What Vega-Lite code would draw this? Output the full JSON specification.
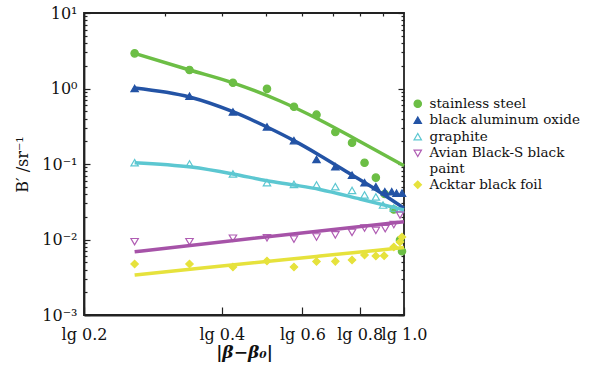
{
  "$schema": "https://vega.github.io/schema/vega-lite/v6.json",
  "width": 320,
  "height": 302,
  "autosize": {"type": "none"},
  "padding": {"left": 84, "top": 13, "right": 189, "bottom": 53},
  "background": "white",
  "config": {
    "view": {"stroke": "#222", "strokeWidth": 1.8},
    "font": "DejaVu Serif",
    "axis": {
      "grid": false,
      "domainColor": "#222",
      "domainWidth": 1.8,
      "tickColor": "#222",
      "tickWidth": 1.2,
      "labelColor": "#111",
      "titleColor": "#111",
      "labelFont": "DejaVu Serif",
      "titleFont": "DejaVu Serif",
      "labelOverlap": false,
      "labelBound": false,
      "labelFlush": false
    }
  },
  "datasets": {
    "pts": [
      {"s": "stainless steel", "x": 0.258, "y": 2.92},
      {"s": "stainless steel", "x": 0.34, "y": 1.76},
      {"s": "stainless steel", "x": 0.423, "y": 1.19},
      {"s": "stainless steel", "x": 0.502, "y": 0.99},
      {"s": "stainless steel", "x": 0.575, "y": 0.574},
      {"s": "stainless steel", "x": 0.644, "y": 0.45},
      {"s": "stainless steel", "x": 0.708, "y": 0.265},
      {"s": "stainless steel", "x": 0.77, "y": 0.191},
      {"s": "stainless steel", "x": 0.82, "y": 0.104},
      {"s": "stainless steel", "x": 0.868, "y": 0.066},
      {"s": "stainless steel", "x": 0.908, "y": 0.04},
      {"s": "stainless steel", "x": 0.95, "y": 0.025},
      {"s": "stainless steel", "x": 0.98, "y": 0.0098},
      {"s": "stainless steel", "x": 0.99, "y": 0.007},
      {"s": "black aluminum oxide", "x": 0.258, "y": 1.0},
      {"s": "black aluminum oxide", "x": 0.34, "y": 0.79},
      {"s": "black aluminum oxide", "x": 0.423, "y": 0.49},
      {"s": "black aluminum oxide", "x": 0.502, "y": 0.31},
      {"s": "black aluminum oxide", "x": 0.575, "y": 0.204},
      {"s": "black aluminum oxide", "x": 0.644, "y": 0.115},
      {"s": "black aluminum oxide", "x": 0.708, "y": 0.092},
      {"s": "black aluminum oxide", "x": 0.77, "y": 0.071},
      {"s": "black aluminum oxide", "x": 0.82, "y": 0.0565},
      {"s": "black aluminum oxide", "x": 0.868, "y": 0.05},
      {"s": "black aluminum oxide", "x": 0.908, "y": 0.043},
      {"s": "black aluminum oxide", "x": 0.94, "y": 0.043},
      {"s": "black aluminum oxide", "x": 0.963, "y": 0.041},
      {"s": "black aluminum oxide", "x": 0.99, "y": 0.041},
      {"s": "graphite", "x": 0.258, "y": 0.104},
      {"s": "graphite", "x": 0.34, "y": 0.1},
      {"s": "graphite", "x": 0.423, "y": 0.0738},
      {"s": "graphite", "x": 0.502, "y": 0.0565},
      {"s": "graphite", "x": 0.575, "y": 0.0538},
      {"s": "graphite", "x": 0.644, "y": 0.0527},
      {"s": "graphite", "x": 0.708, "y": 0.05},
      {"s": "graphite", "x": 0.77, "y": 0.0446},
      {"s": "graphite", "x": 0.82, "y": 0.0389},
      {"s": "graphite", "x": 0.868, "y": 0.0366},
      {"s": "graphite", "x": 0.9, "y": 0.0286},
      {"s": "graphite", "x": 0.95, "y": 0.0261},
      {"s": "graphite", "x": 0.98, "y": 0.0254},
      {"s": "Avian Black-S black paint", "x": 0.258, "y": 0.00935},
      {"s": "Avian Black-S black paint", "x": 0.34, "y": 0.00935},
      {"s": "Avian Black-S black paint", "x": 0.423, "y": 0.0104},
      {"s": "Avian Black-S black paint", "x": 0.502, "y": 0.01055},
      {"s": "Avian Black-S black paint", "x": 0.575, "y": 0.0101},
      {"s": "Avian Black-S black paint", "x": 0.644, "y": 0.0108},
      {"s": "Avian Black-S black paint", "x": 0.708, "y": 0.0115},
      {"s": "Avian Black-S black paint", "x": 0.77, "y": 0.0124},
      {"s": "Avian Black-S black paint", "x": 0.82, "y": 0.0142},
      {"s": "Avian Black-S black paint", "x": 0.868, "y": 0.0132},
      {"s": "Avian Black-S black paint", "x": 0.91, "y": 0.0139},
      {"s": "Avian Black-S black paint", "x": 0.95, "y": 0.0158},
      {"s": "Avian Black-S black paint", "x": 0.98, "y": 0.0211},
      {"s": "Acktar black foil", "x": 0.258, "y": 0.00473},
      {"s": "Acktar black foil", "x": 0.34, "y": 0.00473},
      {"s": "Acktar black foil", "x": 0.423, "y": 0.00432},
      {"s": "Acktar black foil", "x": 0.502, "y": 0.00519},
      {"s": "Acktar black foil", "x": 0.575, "y": 0.00432},
      {"s": "Acktar black foil", "x": 0.644, "y": 0.00512},
      {"s": "Acktar black foil", "x": 0.708, "y": 0.00514},
      {"s": "Acktar black foil", "x": 0.77, "y": 0.00535},
      {"s": "Acktar black foil", "x": 0.82, "y": 0.00623},
      {"s": "Acktar black foil", "x": 0.868, "y": 0.00604},
      {"s": "Acktar black foil", "x": 0.905, "y": 0.0061},
      {"s": "Acktar black foil", "x": 0.95, "y": 0.00796},
      {"s": "Acktar black foil", "x": 0.98, "y": 0.00927},
      {"s": "Acktar black foil", "x": 0.99, "y": 0.0108}
    ],
    "fits": [
      {"s": "stainless steel", "x": 0.258, "y": 2.92},
      {"s": "stainless steel", "x": 0.34, "y": 1.76},
      {"s": "stainless steel", "x": 0.423, "y": 1.19},
      {"s": "stainless steel", "x": 0.536, "y": 0.683},
      {"s": "stainless steel", "x": 0.655, "y": 0.383},
      {"s": "stainless steel", "x": 0.801, "y": 0.199},
      {"s": "stainless steel", "x": 1.0, "y": 0.095},
      {"s": "black aluminum oxide", "x": 0.258, "y": 1.015},
      {"s": "black aluminum oxide", "x": 0.34, "y": 0.772},
      {"s": "black aluminum oxide", "x": 0.423, "y": 0.493},
      {"s": "black aluminum oxide", "x": 0.502, "y": 0.309},
      {"s": "black aluminum oxide", "x": 0.575, "y": 0.204},
      {"s": "black aluminum oxide", "x": 0.655, "y": 0.13},
      {"s": "black aluminum oxide", "x": 0.773, "y": 0.0705},
      {"s": "black aluminum oxide", "x": 0.864, "y": 0.0467},
      {"s": "black aluminum oxide", "x": 1.0, "y": 0.026},
      {"s": "graphite", "x": 0.258, "y": 0.104},
      {"s": "graphite", "x": 0.343, "y": 0.091},
      {"s": "graphite", "x": 0.423, "y": 0.0738},
      {"s": "graphite", "x": 0.502, "y": 0.06},
      {"s": "graphite", "x": 0.575, "y": 0.0527},
      {"s": "graphite", "x": 0.655, "y": 0.046},
      {"s": "graphite", "x": 0.801, "y": 0.0344},
      {"s": "graphite", "x": 1.0, "y": 0.0246},
      {"s": "Avian Black-S black paint", "x": 0.258, "y": 0.00689},
      {"s": "Avian Black-S black paint", "x": 0.655, "y": 0.013},
      {"s": "Avian Black-S black paint", "x": 1.0, "y": 0.0172},
      {"s": "Acktar black foil", "x": 0.258, "y": 0.00339},
      {"s": "Acktar black foil", "x": 0.358, "y": 0.00416},
      {"s": "Acktar black foil", "x": 0.655, "y": 0.00604},
      {"s": "Acktar black foil", "x": 1.0, "y": 0.00783}
    ]
  },
  "layer": [
    {
      "data": {"name": "pts"},
      "mark": {"type": "point", "size": 55, "strokeWidth": 1.2, "opacity": 1},
      "encoding": {
        "x": {
          "field": "x", "type": "quantitative",
          "scale": {"type": "log", "domain": [0.2, 1.0], "nice": false},
          "axis": {
            "orient": "bottom",
            "values": [0.2, 0.4, 0.6, 0.8, 1.0],
            "labelExpr": "'lg ' + format(datum.value, '.1f')",
            "tickSize": -8,
            "labelPadding": 19,
            "labelFontSize": 16,
            "title": "|β−β₀|",
            "titleFontSize": 17,
            "titleFontStyle": "italic",
            "titleFontWeight": "bold",
            "titleX": 160,
            "titleY": 37,
            "titleAlign": "center",
            "titleBaseline": "middle"
          }
        },
        "y": {
          "field": "y", "type": "quantitative",
          "scale": {"type": "log", "domain": [0.001, 10], "nice": false},
          "axis": {
            "orient": "left",
            "values": [0.001,0.002,0.003,0.004,0.005,0.006,0.007,0.008,0.009,0.01,0.02,0.03,0.04,0.05,0.06,0.07,0.08,0.09,0.1,0.2,0.3,0.4,0.5,0.6,0.7,0.8,0.9,1,2,3,4,5,6,7,8,9,10],
            "labelExpr": "abs(log(datum.value)/LN10-round(log(datum.value)/LN10))<0.01 ? (datum.value>5 ? '10¹' : datum.value>0.5 ? '10⁰' : datum.value>0.05 ? '10⁻¹' : datum.value>0.005 ? '10⁻²' : '10⁻³') : ''",
            "tickSize": {"condition": {"test": "abs(log(datum.value)/LN10-round(log(datum.value)/LN10))<0.01", "value": -6}, "value": -3},
            "labelPadding": 13,
            "labelFontSize": 16,
            "title": "B′ /sr⁻¹",
            "titleFontSize": 16,
            "titleFontWeight": "normal",
            "titleX": -62,
            "titleY": 151,
            "titleAngle": -90,
            "titleAlign": "center",
            "titleBaseline": "middle"
          }
        },
        "stroke": {
          "field": "s", "type": "nominal",
          "scale": {"domain": ["stainless steel", "black aluminum oxide", "graphite", "Avian Black-S black paint", "Acktar black foil"], "range": ["#6CBE45", "#2353A5", "#5CC7D1", "#B05DB3", "#E6E23C"]},
          "legend": {"orient": "none", "legendX": 327, "legendY": 84, "title": null, "labelFont": "DejaVu Serif", "labelFontSize": 13.5, "labelColor": "#111", "symbolSize": 55, "symbolStrokeWidth": 1.2, "rowPadding": 1.5, "labelOffset": 5, "labelLimit": 300, "labelExpr": "datum.label == 'Avian Black-S black paint' ? ['Avian Black-S black', 'paint'] : datum.label"}
        },
        "fill": {
          "field": "s", "type": "nominal",
          "scale": {"domain": ["stainless steel", "black aluminum oxide", "graphite", "Avian Black-S black paint", "Acktar black foil"], "range": ["#6CBE45", "#2353A5", "transparent", "transparent", "#E6E23C"]},
          "legend": {"orient": "none", "legendX": 327, "legendY": 84, "title": null, "labelFont": "DejaVu Serif", "labelFontSize": 13.5, "labelColor": "#111", "symbolSize": 55, "symbolStrokeWidth": 1.2, "rowPadding": 1.5, "labelOffset": 5, "labelLimit": 300, "labelExpr": "datum.label == 'Avian Black-S black paint' ? ['Avian Black-S black', 'paint'] : datum.label"}
        },
        "shape": {
          "field": "s", "type": "nominal",
          "scale": {"domain": ["stainless steel", "black aluminum oxide", "graphite", "Avian Black-S black paint", "Acktar black foil"], "range": ["circle", "triangle-up", "triangle-up", "triangle-down", "diamond"]},
          "legend": {"orient": "none", "legendX": 327, "legendY": 84, "title": null, "labelFont": "DejaVu Serif", "labelFontSize": 13.5, "labelColor": "#111", "symbolSize": 55, "symbolStrokeWidth": 1.2, "rowPadding": 1.5, "labelOffset": 5, "labelLimit": 300, "labelExpr": "datum.label == 'Avian Black-S black paint' ? ['Avian Black-S black', 'paint'] : datum.label"}
        }
      }
    },
    {
      "data": {"name": "fits"},
      "mark": {"type": "line", "strokeWidth": 3.5, "interpolate": "monotone"},
      "encoding": {
        "x": {
          "field": "x", "type": "quantitative",
          "scale": {"type": "log", "domain": [0.2, 1.0], "nice": false},
          "axis": {"orient": "top", "values": [0.3, 0.4, 0.5, 0.6, 0.7, 0.8, 0.9], "labels": false, "tickSize": -3, "domain": false, "title": null}
        },
        "y": {
          "field": "y", "type": "quantitative",
          "scale": {"type": "log", "domain": [0.001, 10], "nice": false},
          "axis": {
            "orient": "right",
            "values": [0.001,0.002,0.003,0.004,0.005,0.006,0.007,0.008,0.009,0.01,0.02,0.03,0.04,0.05,0.06,0.07,0.08,0.09,0.1,0.2,0.3,0.4,0.5,0.6,0.7,0.8,0.9,1,2,3,4,5,6,7,8,9,10],
            "labels": false,
            "domain": false,
            "title": null,
            "tickSize": {"condition": {"test": "abs(log(datum.value)/LN10-round(log(datum.value)/LN10))<0.01", "value": -6}, "value": -3}
          }
        },
        "color": {
          "field": "s", "type": "nominal",
          "scale": {"domain": ["stainless steel", "black aluminum oxide", "graphite", "Avian Black-S black paint", "Acktar black foil"], "range": ["#6CBE45", "#2353A5", "#5CC7D1", "#A653A8", "#E6E23C"]},
          "legend": null
        }
      }
    }
  ],
  "resolve": {"axis": {"x": "independent", "y": "independent"}}
}
